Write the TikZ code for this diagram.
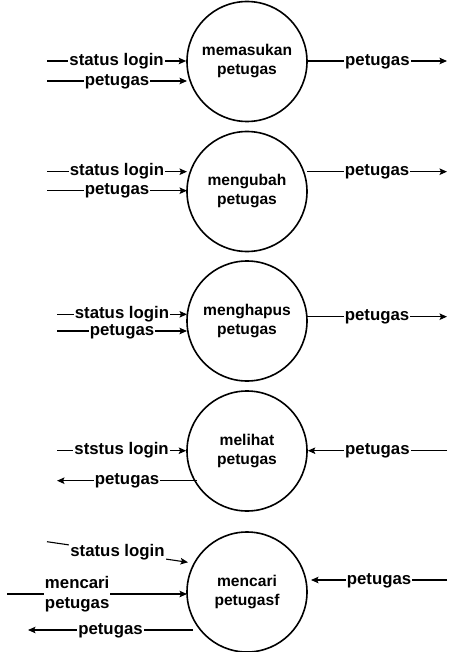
\documentclass[tikz,border=0pt]{standalone}
\usepackage{fontspec}
\setmainfont{Liberation Sans}
\usetikzlibrary{arrows.meta}
\newcommand{\ptxt}[2]{\raisebox{-2pt}{\begin{tabular}{@{}c@{}}#1\\#2\end{tabular}}}
\begin{document}
\begin{tikzpicture}[x=1pt,y=1pt,
  proc/.style={circle,draw,line width=1.6pt,minimum size=120pt,inner sep=0pt,align=center,
    font=\bfseries\fontsize{15.6}{19}\selectfont},
  flow/.style={line width=1.1pt,-{Stealth[length=7.5pt,width=6.5pt,inset=1.5pt]}},
  lbl/.style={fill=white,inner sep=1pt,text height=12pt,text depth=3.5pt,
    font=\bfseries\fontsize{16.8}{20}\selectfont},
  lbl2/.style={fill=white,inner sep=1pt,align=center,
    font=\bfseries\fontsize{16.8}{20}\selectfont}]
\useasboundingbox (0,0) rectangle (457,-652);

% ---- process 1
\node[proc] (p1) at (247,-61.5) {\ptxt{memasukan}{petugas}};
\coordinate (a1) at (47,-61);
\coordinate (b1) at (47,-81);
\coordinate (b1e) at (187,-81);
\coordinate (c1) at (447,-61);
\draw[flow] (a1) -- node[lbl] {status login} (p1.west |- a1);
\draw[flow] (b1) -- node[lbl] {petugas} (b1e);
\draw[flow] (p1.east |- c1) -- node[lbl] {petugas} (c1);

% ---- process 2
\node[proc] (p2) at (247,-191.5) {\ptxt{mengubah}{petugas}};
\coordinate (a2) at (47,-171.7);
\coordinate (a2e) at (187,-171.7);
\coordinate (b2) at (47,-190.7);
\coordinate (b2e) at (187,-190.7);
\coordinate (c2s) at (307,-171.7);
\coordinate (c2) at (447,-171.7);
\draw[flow] (a2) -- node[lbl] {status login} (a2e);
\draw[flow] (b2) -- node[lbl] {petugas} (b2e);
\draw[flow] (c2s) -- node[lbl] {petugas} (c2);

% ---- process 3
\node[proc] (p3) at (247,-321) {\ptxt{menghapus}{petugas}};
\coordinate (a3) at (57,-314.3);
\coordinate (a3e) at (187,-314.3);
\coordinate (b3) at (57,-331);
\coordinate (b3e) at (187,-331);
\coordinate (c3s) at (307,-316.7);
\coordinate (c3) at (447,-316.7);
\draw[flow] (a3) -- node[lbl] {status login} (a3e);
\draw[flow] (b3) -- node[lbl] {petugas} (b3e);
\draw[flow] (c3s) -- node[lbl] {petugas} (c3);

% ---- process 4
\node[proc] (p4) at (247,-451) {\ptxt{melihat}{petugas}};
\coordinate (a4) at (57,-450.7);
\coordinate (b4s) at (197,-480.7);
\coordinate (b4) at (57,-480.7);
\coordinate (c4) at (447,-450.7);
\draw[flow] (a4) -- node[lbl] {ststus login} (p4.west |- a4);
\draw[flow] (b4s) -- node[lbl] {petugas} (b4);
\draw[flow] (c4) -- node[lbl] {petugas} (p4.east |- c4);

% ---- process 5
\node[proc] (p5) at (247,-592) {\ptxt{mencari}{petugasf}};
\coordinate (a5) at (47,-541.7);
\coordinate (a5e) at (188,-562.3);
\coordinate (b5) at (7,-594);
\coordinate (b5e) at (187,-594);
\coordinate (d5s) at (193,-630);
\coordinate (d5) at (28,-630);
\coordinate (c5) at (447,-580);
\coordinate (c5e) at (311,-580);
\draw[flow] (a5) -- node[lbl] {status login} (a5e);
\draw[flow] (b5) -- node[lbl2,pos=0.39] {mencari\\petugas} (b5e);
\draw[flow] (d5s) -- node[lbl] {petugas} (d5);
\draw[flow] (c5) -- node[lbl] {petugas} (c5e);
\end{tikzpicture}
\end{document}
